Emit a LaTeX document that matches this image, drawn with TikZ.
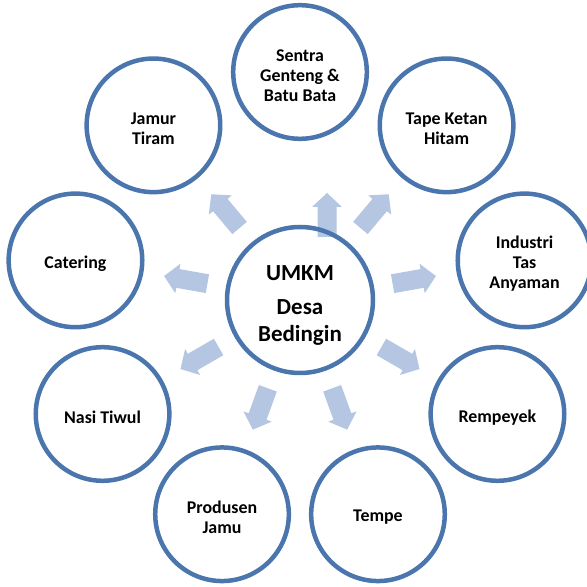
\documentclass[tikz,border=0pt]{standalone}
\usepackage{fontspec}
\setmainfont{Carlito}
\usetikzlibrary{calc}
\definecolor{ringblue}{HTML}{4A76AD}
\definecolor{arrblue}{HTML}{B4C6E1}
\tikzset{
  ring/.style={circle, draw=ringblue, line width=4.5pt, minimum size=133.6pt, inner sep=0pt},
  hubring/.style={circle, draw=ringblue, line width=4.5pt, minimum size=146pt, inner sep=0pt},
  lab/.style={align=center, font=\fontsize{17.9}{20}\selectfont\bfseries, inner sep=0pt},
  hublab/.style={anchor=base, font=\fontsize{23}{27}\selectfont\bfseries, inner sep=0pt},
  arr/.style={fill=arrblue}
}
\begin{document}
\begin{tikzpicture}[x=1pt,y=1pt]
\useasboundingbox (0,0) rectangle (587,587);
\clip (0,0) rectangle (587,587);
\coordinate (C) at (300,287);
% block arrows
\foreach \a in {50,10,-30,-70,-110,-150,170,130}{
  \fill[arr, shift={(C)}, rotate=\a] (94pt,-9.5pt) -- (124pt,-9.5pt) -- (124pt,-15pt) -- (138pt,0pt) -- (124pt,15pt) -- (124pt,9.5pt) -- (94pt,9.5pt) -- cycle;
}
\fill[arr, shift={(327,372)}] (-9.5pt,-22pt) -- (-9.5pt,8pt) -- (-15pt,8pt) -- (0pt,22pt) -- (15pt,8pt) -- (9.5pt,8pt) -- (9.5pt,-22pt) -- cycle;
% hub
\node[hubring] (hub) at (C) {};
\node[hublab] (hubA) at (300,306.3) {UMKM};
\node[hublab] (hubB) at (300,272) {Desa};
\node[hublab] (hubC) at (300,245.3) {Bedingin};
% outer circles
\node[ring] (sentra) at ($(C)+(90:228pt)$) {};
\node[ring] (tape) at ($(C)+(50:228pt)$) {};
\node[ring] (tas) at ($(C)+(10:228pt)$) {};
\node[ring] (rem) at ($(C)+(-30:228pt)$) {};
\node[ring] (tempe) at ($(C)+(-70:228pt)$) {};
\node[ring] (jamu) at ($(C)+(-110:228pt)$) {};
\node[ring] (nasi) at ($(C)+(-150:228pt)$) {};
\node[ring] (cat) at ($(C)+(170:228pt)$) {};
\node[ring] (jamur) at ($(C)+(130:228pt)$) {};
\node[lab] (tsentra) at ([yshift=-3.3pt]sentra.center) {Sentra\\Genteng \&\\Batu Bata};
\node[lab] (ttape) at ([yshift=-3.3pt]tape.center) {Tape Ketan\\Hitam};
\node[lab] (ttas) at ([yshift=-3.3pt]tas.center) {Industri\\Tas\\Anyaman};
\node[lab] (trem) at ([yshift=-3.3pt]rem.center) {Rempeyek};
\node[lab] (ttempe) at ([yshift=-3.3pt]tempe.center) {Tempe};
\node[lab] (tjamu) at ([yshift=-3.3pt]jamu.center) {Produsen\\Jamu};
\node[lab] (tnasi) at ([yshift=-3.3pt]nasi.center) {Nasi Tiwul};
\node[lab] (tcat) at ([yshift=-3.3pt]cat.center) {Catering};
\node[lab] (tjamur) at ([yshift=-3.3pt]jamur.center) {Jamur\\Tiram};
\end{tikzpicture}
\end{document}
